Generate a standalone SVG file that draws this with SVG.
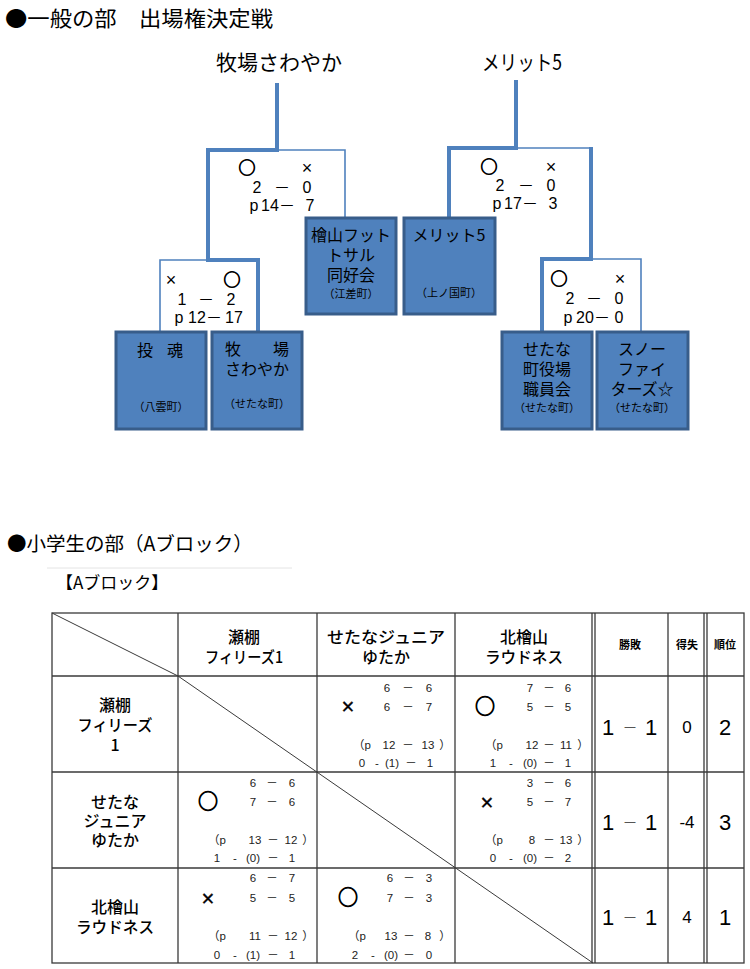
<svg xmlns="http://www.w3.org/2000/svg" width="750" height="969" viewBox="0 0 750 969">
<defs>
<style>
text{font-family:"Liberation Sans","Noto Sans CJK JP",sans-serif;fill:#000}
.jp{font-family:"Noto Sans CJK JP","Liberation Sans",sans-serif}
.team{font-size:21px;text-anchor:middle}
.thick{fill:none;stroke:#4F81BD;stroke-width:4;stroke-linejoin:miter}
.thin{fill:none;stroke:#4F81BD;stroke-width:1.6}
.box{fill:#4F81BD;stroke:#385D8A;stroke-width:3}
.bt{font-size:16px;text-anchor:middle}
.bs{font-size:11px;text-anchor:middle}
.sc{font-size:16px;text-anchor:middle}
.mk{font-size:17px;text-anchor:middle}
.mx{font-size:18px;text-anchor:middle}
.o{stroke:#000;stroke-width:0.9}
.x{stroke:#000;stroke-width:0.4}
.grid{fill:none;stroke:#3a3a3a;stroke-width:1.3}
.diag{fill:none;stroke:#3a3a3a;stroke-width:1}
.hd{font-size:16px;font-weight:500;text-anchor:middle}
.hs{font-size:11px;font-weight:bold;text-anchor:middle}
.s{font-size:11.5px;text-anchor:middle;fill:#222}
.sl{font-size:11.5px;fill:#222}
.tm{font-size:22px;text-anchor:middle}
.tmo{font-size:20px;text-anchor:middle}
.big{font-size:22px;text-anchor:middle}
.dash{font-size:15px;text-anchor:middle;fill:#555}
.med{font-size:17px;text-anchor:middle}
</style>
</defs>

<!-- Titles -->
<text class="jp" x="5" y="26" font-size="21" textLength="268" lengthAdjust="spacingAndGlyphs">●一般の部　出場権決定戦</text>
<text class="jp" x="7" y="551" font-size="19.5">●小学生の部（Aブロック）</text>

<!-- Bracket connectors -->
<g id="connectors">
<path class="thick" d="M277,83 V150 H208 V260 H258 V333"/>
<path class="thin" d="M277,150 H345 V218"/>
<path class="thin" d="M208,260 H160 V333"/>
<path class="thick" d="M516,80 V148 H449 V218"/>
<path class="thin" d="M516,148 H591"/>
<path class="thick" d="M591,147 V259 H542 V333"/>
<path class="thin" d="M591,259 H641 V333"/>
</g>

<!-- Winners labels -->
<g id="winner-left"><text class="team jp" x="279" y="70" textLength="126" lengthAdjust="spacingAndGlyphs">牧場さわやか</text></g>
<g id="winner-right"><text class="team jp" x="522" y="70" textLength="80" lengthAdjust="spacingAndGlyphs">メリット5</text></g>

<!-- Scores -->
<g id="score-left-top">
<text class="mk jp o" x="247" y="174">○</text>
<text class="mx" x="307" y="174">×</text>
<text class="sc" x="257" y="193">2</text><text class="sc" x="282" y="193">－</text><text class="sc" x="307" y="193">0</text>
<text class="sc" x="254" y="211">p</text><text class="sc" x="270" y="211">14</text><text class="sc" x="287" y="211">－</text><text class="sc" x="310" y="211">7</text>
</g>
<g id="score-left-low">
<text class="mx" x="171" y="286">×</text>
<text class="mk jp o" x="232" y="286">○</text>
<text class="sc" x="182" y="305">1</text><text class="sc" x="206" y="305">－</text><text class="sc" x="231" y="305">2</text>
<text class="sc" x="179" y="323">p</text><text class="sc" x="197" y="323">12</text><text class="sc" x="214" y="323">－</text><text class="sc" x="234" y="323">17</text>
</g>
<g id="score-right-top">
<text class="mk jp o" x="489" y="173">○</text>
<text class="mx" x="551" y="173">×</text>
<text class="sc" x="500" y="191">2</text><text class="sc" x="526" y="191">－</text><text class="sc" x="551" y="191">0</text>
<text class="sc" x="497" y="209">p</text><text class="sc" x="513" y="209">17</text><text class="sc" x="530" y="209">－</text><text class="sc" x="553" y="209">3</text>
</g>
<g id="score-right-low">
<text class="mk jp o" x="559" y="285">○</text>
<text class="mx" x="620" y="285">×</text>
<text class="sc" x="570" y="304">2</text><text class="sc" x="594" y="304">－</text><text class="sc" x="619" y="304">0</text>
<text class="sc" x="568" y="323">p</text><text class="sc" x="585" y="323">20</text><text class="sc" x="602" y="323">－</text><text class="sc" x="619" y="323">0</text>
</g>

<!-- Team boxes -->
<g id="team-tokon">
<rect class="box" x="116" y="332" width="90" height="97"/>
<text class="bt jp" x="145" y="356">投</text><text class="bt jp" x="175" y="356">魂</text>
<text class="bs jp" x="161" y="411">（八雲町）</text>
</g>
<g id="team-makiba">
<rect class="box" x="212" y="332" width="90" height="97"/>
<text class="bt jp" x="233" y="355">牧</text><text class="bt jp" x="281" y="355">場</text>
<text class="bt jp" x="257" y="375">さわやか</text>
<text class="bs jp" x="257" y="408">（せたな町）</text>
</g>
<g id="team-hiyama">
<rect class="box" x="306" y="218" width="90" height="96"/>
<text class="bt jp" x="351" y="241">檜山フット</text>
<text class="bt jp" x="351" y="261">トサル</text>
<text class="bt jp" x="351" y="281">同好会</text>
<text class="bs jp" x="351" y="298">（江差町）</text>
</g>
<g id="team-merit5">
<rect class="box" x="404" y="218" width="91" height="96"/>
<text class="bt jp" x="449" y="241">メリット5</text>
<text class="bs jp" x="449" y="297">（上ノ国町）</text>
</g>
<g id="team-setana-yakuba">
<rect class="box" x="502" y="332" width="90" height="97"/>
<text class="bt jp" x="547" y="355">せたな</text>
<text class="bt jp" x="547" y="375">町役場</text>
<text class="bt jp" x="547" y="395">職員会</text>
<text class="bs jp" x="547" y="412">（せたな町）</text>
</g>
<g id="team-snow">
<rect class="box" x="597" y="332" width="91" height="97"/>
<text class="bt jp" x="642" y="355">スノー</text>
<text class="bt jp" x="642" y="375">ファイ</text>
<text class="bt jp" x="642" y="395">ターズ☆</text>
<text class="bs jp" x="642" y="412">（せたな町）</text>
</g>

<!-- Block table -->
<g id="block-label">
<line x1="47" y1="568" x2="292" y2="568" stroke="#e4e4e4" stroke-width="1"/>
<text class="jp" x="56" y="589" font-size="17">【Aブロック】</text>
</g>

<g id="table-grid">
<rect class="grid" x="52" y="613" width="692" height="350"/>
<line class="grid" x1="52" y1="676" x2="744" y2="676"/>
<line class="grid" x1="52" y1="772" x2="744" y2="772"/>
<line class="grid" x1="52" y1="868" x2="744" y2="868"/>
<line class="grid" x1="178" y1="613" x2="178" y2="963"/>
<line class="grid" x1="317" y1="613" x2="317" y2="963"/>
<line class="grid" x1="455" y1="613" x2="455" y2="963"/>
<line class="grid" x1="592" y1="613" x2="592" y2="963"/>
<line class="grid" x1="595" y1="613" x2="595" y2="963"/>
<line class="grid" x1="668" y1="613" x2="668" y2="963"/>
<line class="grid" x1="704" y1="613" x2="704" y2="963"/>
<line class="grid" x1="707" y1="613" x2="707" y2="963"/>
<line class="diag" x1="52" y1="613" x2="178" y2="676"/>
<line class="diag" x1="178" y1="676" x2="593" y2="963"/>
</g>

<g id="table-header">
<text class="hd jp" x="244" y="643">瀬棚</text>
<text class="hd jp" x="244" y="663" textLength="78" lengthAdjust="spacingAndGlyphs">フィリーズ1</text>
<text class="hd jp" x="386" y="643" textLength="118" lengthAdjust="spacingAndGlyphs">せたなジュニア</text>
<text class="hd jp" x="386" y="663">ゆたか</text>
<text class="hd jp" x="524" y="643">北檜山</text>
<text class="hd jp" x="524" y="663" textLength="78" lengthAdjust="spacingAndGlyphs">ラウドネス</text>
<text class="hs jp" x="630" y="649">勝敗</text>
<text class="hs jp" x="687" y="649">得失</text>
<text class="hs jp" x="725" y="649">順位</text>
</g>

<g id="row-sezana">
<text class="hd jp" x="115" y="711">瀬棚</text>
<text class="hd jp" x="115" y="731" textLength="75" lengthAdjust="spacingAndGlyphs">フィリーズ</text>
<text class="hd jp" x="115" y="751">1</text>
<g transform="translate(317,676)">
<text class="tm x" x="31" y="38">×</text>
<text class="s" x="70" y="16">6</text><text class="s" x="91" y="16">－</text><text class="s" x="112" y="16">6</text>
<text class="s" x="70" y="35">6</text><text class="s" x="91" y="35">－</text><text class="s" x="112" y="35">7</text>
<text class="sl" x="36" y="73">（p</text><text class="s" x="72" y="73">12</text><text class="s" x="91" y="73">－</text><text class="s" x="111" y="73">13</text><text class="s" x="128" y="73">）</text>
<text class="s" x="45" y="91">0</text><text class="s" x="60" y="91">-</text><text class="s" x="75" y="91">(1)</text><text class="s" x="94" y="91">－</text><text class="s" x="113" y="91">1</text>
</g>
<g transform="translate(455,676)">
<text class="tmo jp o" x="30" y="38">○</text>
<text class="s" x="75" y="16">7</text><text class="s" x="94" y="16">－</text><text class="s" x="113" y="16">6</text>
<text class="s" x="75" y="35">5</text><text class="s" x="94" y="35">－</text><text class="s" x="113" y="35">5</text>
<text class="sl" x="30" y="73">（p</text><text class="s" x="77" y="73">12</text><text class="s" x="94" y="73">－</text><text class="s" x="111" y="73">11</text><text class="s" x="128" y="73">）</text>
<text class="s" x="38" y="91">1</text><text class="s" x="56" y="91">-</text><text class="s" x="75" y="91">(0)</text><text class="s" x="94" y="91">－</text><text class="s" x="113" y="91">1</text>
</g>
<text class="big" x="608" y="735">1</text><text class="dash" x="630" y="733">－</text><text class="big" x="651" y="735">1</text>
<text class="med" x="687" y="733">0</text>
<text class="big" x="725" y="735" font-size="24">2</text>
</g>

<g id="row-setana-junior">
<text class="hd jp" x="115" y="808">せたな</text>
<text class="hd jp" x="115" y="827">ジュニア</text>
<text class="hd jp" x="115" y="846">ゆたか</text>
<g transform="translate(178,772)">
<text class="tmo jp o" x="30" y="37">○</text>
<text class="s" x="75" y="15">6</text><text class="s" x="94" y="15">－</text><text class="s" x="114" y="15">6</text>
<text class="s" x="75" y="34">7</text><text class="s" x="94" y="34">－</text><text class="s" x="114" y="34">6</text>
<text class="sl" x="30" y="72">（p</text><text class="s" x="77" y="72">13</text><text class="s" x="95" y="72">－</text><text class="s" x="113" y="72">12</text><text class="s" x="130" y="72">）</text>
<text class="s" x="39" y="90">1</text><text class="s" x="57" y="90">-</text><text class="s" x="75" y="90">(0)</text><text class="s" x="95" y="90">－</text><text class="s" x="114" y="90">1</text>
</g>
<g transform="translate(455,772)">
<text class="tm x" x="32" y="38">×</text>
<text class="s" x="75" y="15">3</text><text class="s" x="94" y="15">－</text><text class="s" x="113" y="15">6</text>
<text class="s" x="75" y="34">5</text><text class="s" x="94" y="34">－</text><text class="s" x="113" y="34">7</text>
<text class="sl" x="30" y="72">（p</text><text class="s" x="77" y="72">8</text><text class="s" x="94" y="72">－</text><text class="s" x="111" y="72">13</text><text class="s" x="128" y="72">）</text>
<text class="s" x="38" y="90">0</text><text class="s" x="56" y="90">-</text><text class="s" x="75" y="90">(0)</text><text class="s" x="94" y="90">－</text><text class="s" x="113" y="90">2</text>
</g>
<text class="big" x="608" y="830">1</text><text class="dash" x="630" y="828">－</text><text class="big" x="651" y="830">1</text>
<text class="med" x="687" y="828" font-size="16">-4</text>
<text class="big" x="725" y="830" font-size="24">3</text>
</g>

<g id="row-kitahiyama">
<text class="hd jp" x="115" y="913">北檜山</text>
<text class="hd jp" x="115" y="933" textLength="78" lengthAdjust="spacingAndGlyphs">ラウドネス</text>
<g transform="translate(178,868)">
<text class="tm x" x="30" y="38">×</text>
<text class="s" x="75" y="14">6</text><text class="s" x="94" y="14">－</text><text class="s" x="114" y="14">7</text>
<text class="s" x="75" y="34">5</text><text class="s" x="94" y="34">－</text><text class="s" x="114" y="34">5</text>
<text class="sl" x="30" y="72">（p</text><text class="s" x="77" y="72">11</text><text class="s" x="95" y="72">－</text><text class="s" x="113" y="72">12</text><text class="s" x="130" y="72">）</text>
<text class="s" x="39" y="91">0</text><text class="s" x="57" y="91">-</text><text class="s" x="75" y="91">(1)</text><text class="s" x="95" y="91">－</text><text class="s" x="114" y="91">1</text>
</g>
<g transform="translate(317,868)">
<text class="tmo jp o" x="31" y="37">○</text>
<text class="s" x="73" y="14">6</text><text class="s" x="92" y="14">－</text><text class="s" x="112" y="14">3</text>
<text class="s" x="73" y="34">7</text><text class="s" x="92" y="34">－</text><text class="s" x="112" y="34">3</text>
<text class="sl" x="31" y="72">（p</text><text class="s" x="74" y="72">13</text><text class="s" x="92" y="72">－</text><text class="s" x="111" y="72">8</text><text class="s" x="128" y="72">）</text>
<text class="s" x="38" y="91">2</text><text class="s" x="56" y="91">-</text><text class="s" x="74" y="91">(0)</text><text class="s" x="92" y="91">－</text><text class="s" x="112" y="91">0</text>
</g>
<text class="big" x="608" y="925">1</text><text class="dash" x="630" y="923">－</text><text class="big" x="651" y="925">1</text>
<text class="med" x="687" y="923">4</text>
<text class="big" x="725" y="925" font-size="24">1</text>
</g>
</svg>
